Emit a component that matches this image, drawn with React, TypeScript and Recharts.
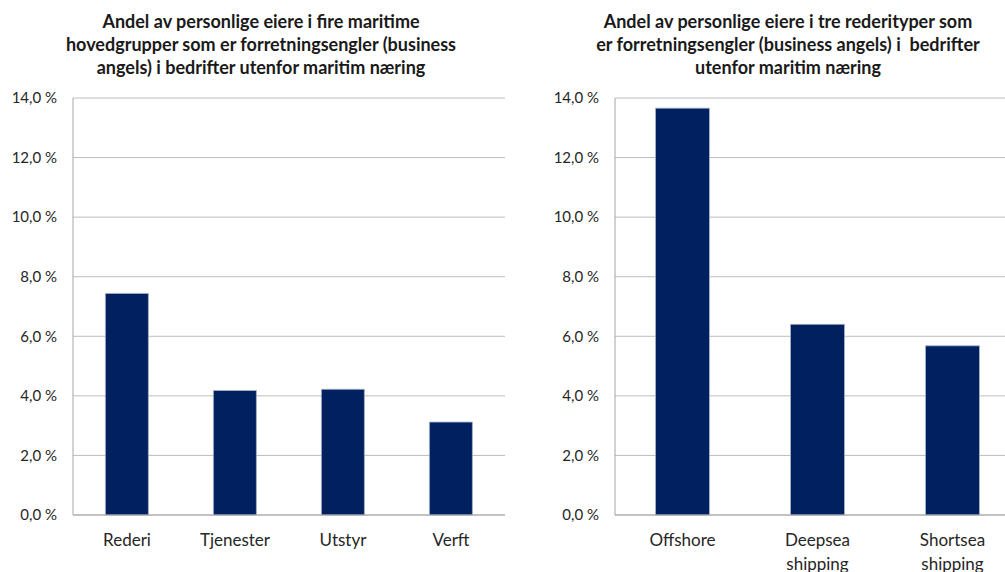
import React from 'react';
import { BarChart, Bar, XAxis, YAxis, CartesianGrid } from 'recharts';

// Left panel: four maritime main groups
const groupNames = ['Rederi', 'Tjenester', 'Utstyr', 'Verft'];
const groupShares = [7.44, 4.18, 4.22, 3.12];

// Right panel: three shipowner types
const ownerTypes = ['Offshore', 'Deepsea shipping', 'Shortsea shipping'];
const ownerShares = [13.66, 6.4, 5.68];

const yTicks = [0, 2, 4, 6, 8, 10, 12, 14];

const leftTitle = [
  'Andel av personlige eiere i fire maritime',
  'hovedgrupper som er forretningsengler (business',
  'angels) i bedrifter utenfor maritim næring',
];
const rightTitle = [
  'Andel av personlige eiere i tre rederityper som',
  'er forretningsengler (business angels) i  bedrifter',
  'utenfor maritim næring',
];

const BAR_COLOR = '#002060';
const TEXT_COLOR = '#262626';
const FONT = 'Lato, "Open Sans", sans-serif';

const fmtPct = (v: number) => `${v.toFixed(1).replace('.', ',')} %`;

// Category label, one word per line
const CategoryTick = (props: any) => {
  const { x, y, payload } = props;
  const words: string[] = String(payload.value).split(' ');
  return (
    <text x={x} y={y} textAnchor="middle" fill={TEXT_COLOR} fontSize={17} fontFamily={FONT}>
      {words.map((w, i) => (
        <tspan key={i} x={x} dy={i === 0 ? 23 : 24}>
          {w}
        </tspan>
      ))}
    </text>
  );
};

interface PanelProps {
  names: string[];
  values: number[];
  title: string[];
  left: number;
  width: number;
  axisWidth: number;
  titleCenter: number;
}

const Panel: React.FC<PanelProps> = ({ names, values, title, left, width, axisWidth, titleCenter }) => {
  const data = names.map((name, i) => ({ name, value: values[i] }));
  return (
    <>
      <div
        style={{
          position: 'absolute',
          left: titleCenter - 260,
          top: 10,
          width: 520,
          textAlign: 'center',
          fontFamily: FONT,
          fontWeight: 700,
          fontSize: 18,
          lineHeight: '23px',
          color: '#1a1a1a',
          whiteSpace: 'pre',
        }}
      >
        {title.map((line, i) => (
          <div key={i}>{line}</div>
        ))}
      </div>
      <div style={{ position: 'absolute', left, top: 0 }}>
        <BarChart
          width={width}
          height={572}
          data={data}
          margin={{ top: 98, right: 0, bottom: 0, left: 0 }}
          barCategoryGap="30%"
        >
          <CartesianGrid vertical={false} stroke="#bdbdbd" strokeWidth={1} />
          <XAxis
            dataKey="name"
            axisLine={{ stroke: '#a6a6a6' }}
            tickLine={false}
            interval={0}
            tick={<CategoryTick />}
            height={57}
          />
          <YAxis
            domain={[0, 14]}
            ticks={yTicks}
            tickFormatter={fmtPct}
            width={axisWidth}
            axisLine={{ stroke: '#a6a6a6' }}
            tickLine={false}
            tickSize={6}
            tickMargin={10}
            tick={{ fill: TEXT_COLOR, fontSize: 15, fontFamily: FONT }}
          />
          <Bar dataKey="value" fill={BAR_COLOR} stroke="#a9b3c9" strokeWidth={0.8} isAnimationActive={false} />
        </BarChart>
      </div>
    </>
  );
};

export default function App() {
  return (
    <div
      style={{
        position: 'fixed',
        left: 0,
        top: 0,
        width: 1005,
        height: 572,
        overflow: 'hidden',
        background: '#ffffff',
      }}
    >
      <Panel
        names={groupNames}
        values={groupShares}
        title={leftTitle}
        left={0}
        width={505}
        axisWidth={73}
        titleCenter={261}
      />
      <Panel
        names={ownerTypes}
        values={ownerShares}
        title={rightTitle}
        left={540}
        width={480}
        axisWidth={75}
        titleCenter={788}
      />
    </div>
  );
}
